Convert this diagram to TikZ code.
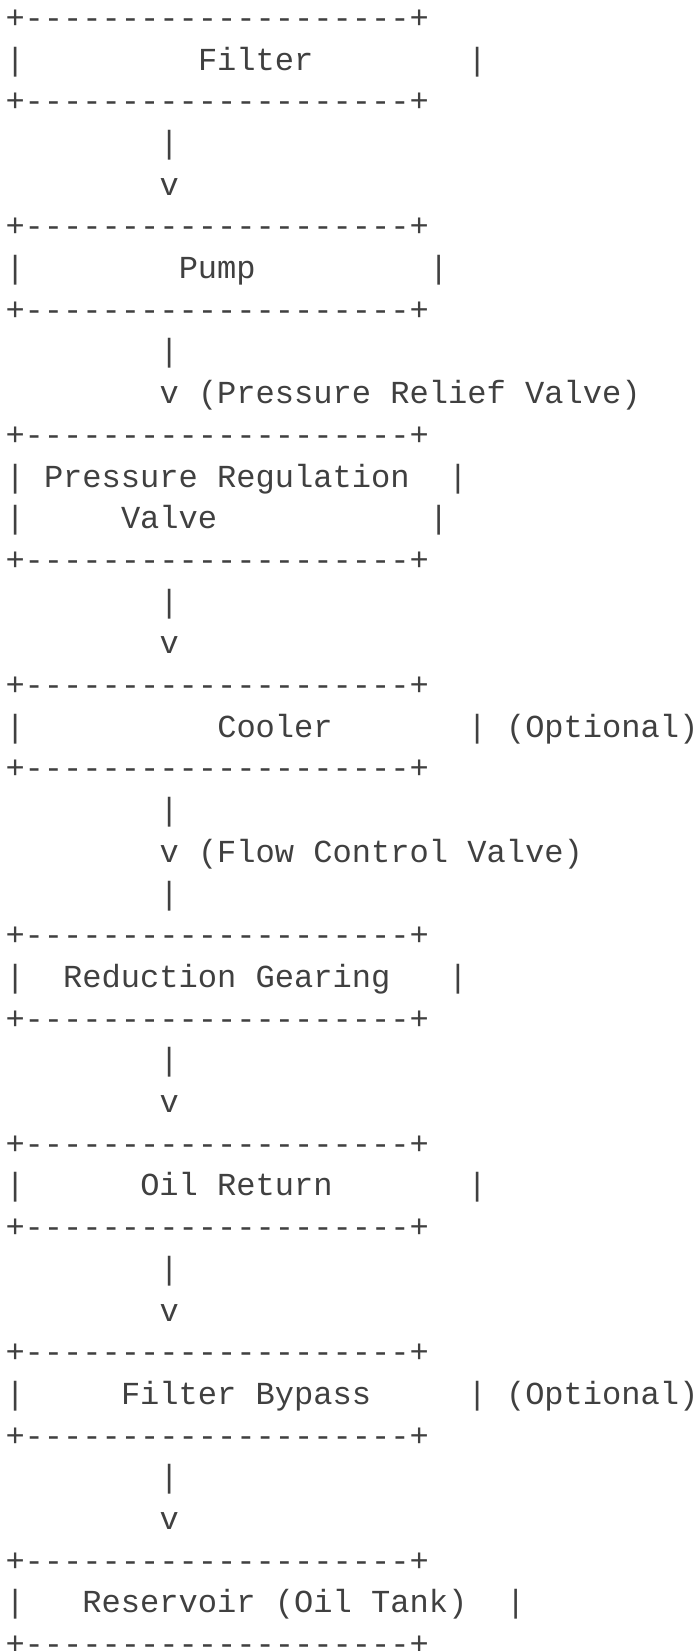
\documentclass[tikz,border=0pt]{standalone}
\usepackage{fontspec}
\setmonofont{Liberation Mono}
\colorlet{ink}{black!75}

\begin{document}
\begin{tikzpicture}[
    x=9.625pt, y=-20.85pt,
    ascii/.style={anchor=base west, inner sep=0, outer sep=0, text=ink,
        font=\ttfamily\fontsize{16.04pt}{20.85pt}\selectfont},
    edge/.style={ascii},
    pipe/.style={ascii},
    label text/.style={ascii}
]
    \useasboundingbox (0pt,0pt) rectangle (347.5pt,-825.5pt);

    \begin{scope}[shift={(2.75pt,-14.15pt)}]

    % =========================================================
    % BOX BORDERS
    % =========================================================
    \foreach \r/\name in {0/filterT, 2/filterB, 5/pumpT, 7/pumpB, 10/regT, 13/regB,
        16/coolT, 18/coolB, 22/gearT, 24/gearB, 27/retT, 29/retB,
        32/bypT, 34/bypB, 37/resT, 39/resB} {
        \node[edge] (\name) at (0,\r) {+--------------------+};
    }

    % =========================================================
    % BOX CONTENTS
    % =========================================================
    % Filter
    \node[edge] (filterL) at (0,1) {|};
    \node[ascii] (filter) at (10,1) {Filter};
    \node[edge] (filterR) at (24,1) {|};

    % Pump
    \node[edge] (pumpL) at (0,6) {|};
    \node[ascii] (pump) at (9,6) {Pump};
    \node[edge] (pumpR) at (22,6) {|};

    % Pressure Regulation Valve (two lines)
    \node[edge] (regL1) at (0,11) {|};
    \node[ascii] (reg1) at (2,11) {Pressure Regulation};
    \node[edge] (regR1) at (23,11) {|};
    \node[edge] (regL2) at (0,12) {|};
    \node[ascii] (reg2) at (6,12) {Valve};
    \node[edge] (regR2) at (22,12) {|};

    % Cooler
    \node[edge] (coolL) at (0,17) {|};
    \node[ascii] (cooler) at (11,17) {Cooler};
    \node[edge] (coolR) at (24,17) {|};
    \node[label text] (coolOpt) at (26,17) {(Optional)};

    % Reduction Gearing
    \node[edge] (gearL) at (0,23) {|};
    \node[ascii] (gearing) at (3,23) {Reduction Gearing};
    \node[edge] (gearR) at (23,23) {|};

    % Oil Return
    \node[edge] (retL) at (0,28) {|};
    \node[ascii] (oilret) at (7,28) {Oil Return};
    \node[edge] (retR) at (24,28) {|};

    % Filter Bypass
    \node[edge] (bypL) at (0,33) {|};
    \node[ascii] (bypass) at (6,33) {Filter Bypass};
    \node[edge] (bypR) at (24,33) {|};
    \node[label text] (bypOpt) at (26,33) {(Optional)};

    % Reservoir
    \node[edge] (resL) at (0,38) {|};
    \node[ascii] (reservoir) at (4,38) {Reservoir (Oil Tank)};
    \node[edge] (resR) at (26,38) {|};

    % =========================================================
    % FLOW BETWEEN BOXES
    % =========================================================
    \foreach \r in {3, 8, 14, 19, 21, 25, 30, 35} {
        \node[pipe] (stem\r) at (8,\r) {|};
    }
    \foreach \r in {4, 15, 26, 31, 36} {
        \node[pipe] (tip\r) at (8,\r) {v};
    }
    \node[pipe] (tip9) at (8,9) {v};
    \node[label text] (relief) at (10,9) {(Pressure Relief Valve)};
    \node[pipe] (tip20) at (8,20) {v};
    \node[label text] (flowctl) at (10,20) {(Flow Control Valve)};

    \end{scope}

\end{tikzpicture}
\end{document}
